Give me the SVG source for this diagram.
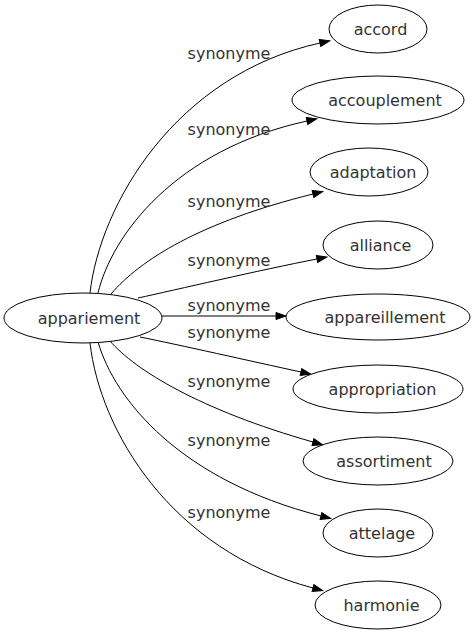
<svg xmlns="http://www.w3.org/2000/svg" width="475" height="635" viewBox="0 0 475 635">
<style>
.node ellipse{fill:#ffffff;stroke:#000000;stroke-width:1}
.node text{font-family:"DejaVu Sans",sans-serif;font-size:16px;fill:#333333;text-anchor:middle}
.edge path{fill:none;stroke:#000000;stroke-width:1;marker-end:url(#arrow)}
.edge text{font-family:"DejaVu Sans",sans-serif;font-size:16px;fill:#333333;text-anchor:middle}
</style>
<defs>
<marker id="arrow" markerUnits="userSpaceOnUse" markerWidth="12" markerHeight="10" refX="0" refY="0" viewBox="0 -5 12 10" orient="auto" overflow="visible">
<path d="M0,-3.5 L10,0 L0,3.5 Z" fill="#000000" stroke="#000000" stroke-width="1"/>
</marker>
</defs>
<rect width="475" height="635" fill="#ffffff"/>
<g id="connectors">
<g class="edge" id="e-accord"><path d="M90,293 C100,205 175,75 320,43"/><text x="229" y="59">synonyme</text></g>
<g class="edge" id="e-accouplement"><path d="M98,293 C112,235 175,150 307,121"/><text x="229" y="135">synonyme</text></g>
<g class="edge" id="e-adaptation"><path d="M111,294 C140,260 200,222 313,194"/><text x="229" y="207">synonyme</text></g>
<g class="edge" id="e-alliance"><path d="M138,298 C175,290 260,270 317,259"/><text x="229" y="266">synonyme</text></g>
<g class="edge" id="e-appareillement"><path d="M161,316 L276,316"/><text x="229" y="311">synonyme</text></g>
<g class="edge" id="e-appropriation"><path d="M140,337 C180,345 250,361 301,372"/><text x="229" y="338">synonyme</text></g>
<g class="edge" id="e-assortiment"><path d="M110,341 C135,370 200,410 313,442"/><text x="229" y="387">synonyme</text></g>
<g class="edge" id="e-attelage"><path d="M98,342 C115,400 180,480 321,516"/><text x="229" y="446">synonyme</text></g>
<g class="edge" id="e-harmonie"><path d="M90,343 C100,430 170,550 313,588"/><text x="229" y="518">synonyme</text></g>
</g>
<g class="node" id="n-appariement"><ellipse cx="83" cy="318" rx="79" ry="25"/><text x="89" y="323.5">appariement</text></g>
<g class="node" id="n-accord"><ellipse cx="378" cy="29" rx="49" ry="24"/><text x="380.5" y="35">accord</text></g>
<g class="node" id="n-accouplement"><ellipse cx="378" cy="100" rx="86" ry="24"/><text x="385" y="106">accouplement</text></g>
<g class="node" id="n-adaptation"><ellipse cx="369" cy="172" rx="59" ry="24"/><text x="373" y="178">adaptation</text></g>
<g class="node" id="n-alliance"><ellipse cx="378" cy="245" rx="55" ry="24"/><text x="380.5" y="251">alliance</text></g>
<g class="node" id="n-appareillement"><ellipse cx="378" cy="317" rx="92" ry="23"/><text x="385" y="323">appareillement</text></g>
<g class="node" id="n-appropriation"><ellipse cx="378" cy="389" rx="85" ry="24"/><text x="382.5" y="395">appropriation</text></g>
<g class="node" id="n-assortiment"><ellipse cx="378" cy="461" rx="75" ry="24"/><text x="384" y="467">assortiment</text></g>
<g class="node" id="n-attelage"><ellipse cx="378" cy="533" rx="55" ry="24"/><text x="382" y="539">attelage</text></g>
<g class="node" id="n-harmonie"><ellipse cx="378" cy="605" rx="63" ry="24"/><text x="381.5" y="611">harmonie</text></g>
</svg>
